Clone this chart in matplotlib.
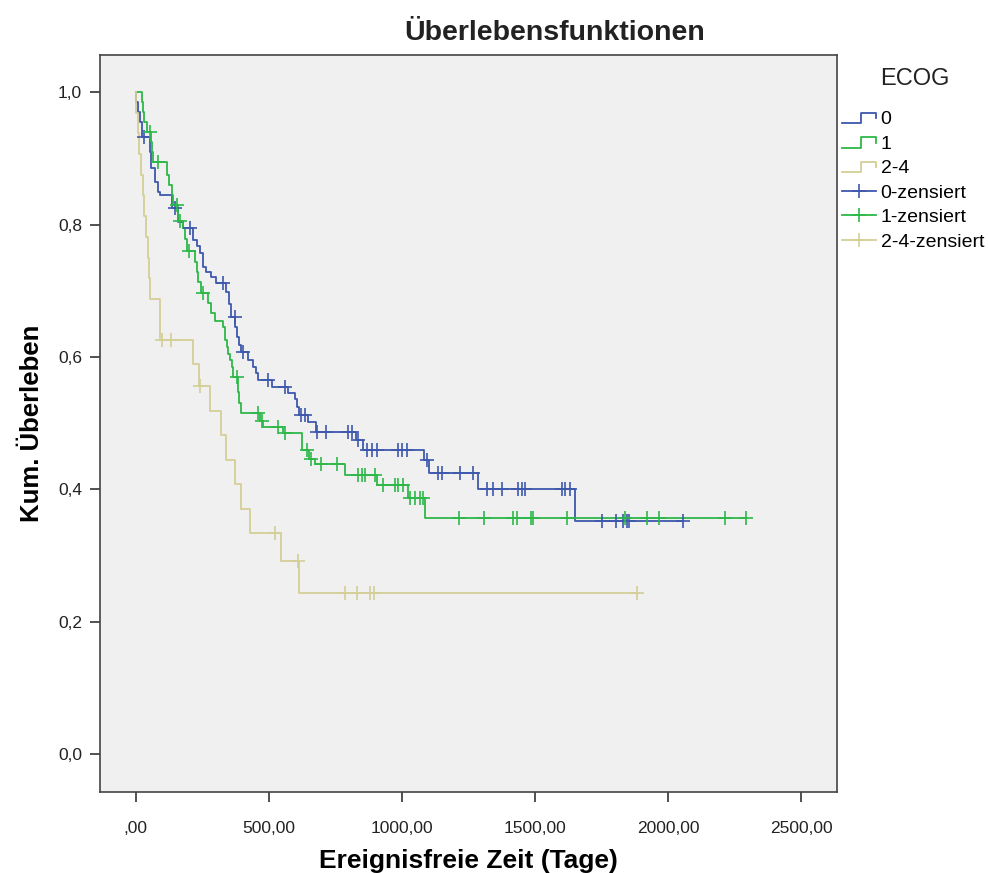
import matplotlib

matplotlib.use("Agg")
import matplotlib.pyplot as plt
import numpy as np
from matplotlib.legend_handler import HandlerBase
from matplotlib.lines import Line2D
from matplotlib.ticker import FuncFormatter

plt.rcParams["font.family"] = ["Liberation Sans", "DejaVu Sans"]

# ─── Kaplan-Meier steps per ECOG group (days, cumulative survival) ────
GROUPS = ["0", "1", "2-4"]
COLORS = ["#3E58AC", "#2EB848", "#D4CE97"]

ecog0_times = [3, 9, 15, 22, 53, 59, 72, 84, 92, 137, 159, 178, 216, 231,
               242, 253, 266, 283, 302, 340, 351, 360, 375, 379, 388, 396,
               422, 441, 454, 460, 511, 574, 599, 606, 614, 648, 676, 826,
               854, 1082, 1104, 1288, 1651]
ecog0_surv = [0.985, 0.970, 0.955, 0.932, 0.909, 0.885, 0.864, 0.849, 0.844,
              0.825, 0.804, 0.795, 0.776, 0.768, 0.757, 0.736, 0.728, 0.721,
              0.712, 0.698, 0.680, 0.660, 0.645, 0.630, 0.618, 0.607, 0.595,
              0.585, 0.575, 0.565, 0.554, 0.545, 0.537, 0.525, 0.512, 0.502,
              0.487, 0.474, 0.459, 0.444, 0.424, 0.401, 0.352]
ecog0_cens = [32, 147, 204, 328, 372, 403, 497, 561, 623, 636, 683, 717, 799,
              811, 834, 869, 887, 906, 987, 1000, 1019, 1095, 1137, 1150,
              1219, 1269, 1319, 1344, 1375, 1438, 1451, 1463, 1601, 1613,
              1632, 1751, 1805, 1832, 1845, 1854, 2058]

ecog1_times = [22, 26, 32, 43, 58, 62, 66, 118, 125, 137, 142, 159, 178, 187,
               192, 223, 230, 236, 246, 272, 283, 298, 329, 336, 342, 348,
               355, 361, 367, 386, 390, 394, 467, 479, 554, 625, 651, 674,
               786, 906, 1025, 1087]
ecog1_surv = [0.985, 0.970, 0.955, 0.940, 0.925, 0.910, 0.895, 0.875, 0.860,
              0.845, 0.830, 0.806, 0.795, 0.778, 0.760, 0.743, 0.728, 0.713,
              0.697, 0.682, 0.667, 0.655, 0.645, 0.625, 0.615, 0.605, 0.595,
              0.585, 0.570, 0.547, 0.530, 0.515, 0.503, 0.494, 0.485, 0.459,
              0.446, 0.438, 0.422, 0.406, 0.387, 0.357]
ecog1_cens = [54, 85, 154, 167, 199, 254, 379, 461, 473, 535, 561, 644, 657,
              698, 755, 837, 849, 862, 899, 931, 975, 987, 1006, 1031, 1050,
              1068, 1081, 1216, 1309, 1417, 1432, 1485, 1494, 1622, 1840,
              1920, 1968, 2215, 2292]

ecog24_times = [3, 7, 13, 19, 27, 33, 39, 45, 50, 53, 92, 216, 237, 280, 321,
                340, 373, 396, 430, 546, 614]
ecog24_surv = [0.969, 0.938, 0.906, 0.875, 0.844, 0.813, 0.781, 0.750, 0.719,
               0.688, 0.625, 0.590, 0.556, 0.519, 0.482, 0.445, 0.408, 0.371,
               0.334, 0.292, 0.243]
ecog24_cens = [99, 133, 240, 523, 610, 787, 832, 881, 896, 1883]

CURVES = [
    (ecog0_times, ecog0_surv, ecog0_cens),
    (ecog1_times, ecog1_surv, ecog1_cens),
    (ecog24_times, ecog24_surv, ecog24_cens),
]


class StepHandler(HandlerBase):
    """Legend glyph shaped like a small survival step."""

    def create_artists(self, legend, orig_handle, xdescent, ydescent,
                       width, height, fontsize, trans):
        x0, x1 = -xdescent, -xdescent + width
        xm = x0 + 0.58 * width
        lo, hi = -ydescent + 0.1 * height, -ydescent + 0.85 * height
        line = Line2D([x0, xm, xm, x1, x1], [lo, lo, hi, hi, 0.55 * hi],
                      color=orig_handle.get_color(), lw=1.3)
        line.set_transform(trans)
        return [line]


def surv_at(times, surv, t):
    idx = np.searchsorted(times, t, side="right")
    return np.concatenate([[1.0], surv])[idx]


fig = plt.figure(figsize=(9.89, 8.73), dpi=100)
ax = fig.add_axes([0.1011, 0.0928, 0.7452, 0.8442])
ax.set_facecolor("#F0F0F0")

step_handles, cens_handles = [], []
for (times, surv, cens), color in zip(CURVES, COLORS):
    times = np.asarray(times, float)
    surv = np.asarray(surv, float)
    cens = np.asarray(cens, float)
    end = max(times.max(), cens.max())
    xs = np.concatenate([[0.0], times, [end]])
    ys = np.concatenate([[1.0], surv, [surv[-1]]])
    h, = ax.step(xs, ys, where="post", color=color, lw=1.3, zorder=3)
    ax.plot(cens, surv_at(times, surv, cens), ls="none", marker="+",
            ms=9.5, mew=1.2, color=color, zorder=4)
    step_handles.append(h)
    cens_handles.append(Line2D([], [], color=color, lw=1.3, marker="+",
                               ms=9.5, mew=1.2))

ax.set_xlim(-134, 2635)
ax.set_ylim(-0.057, 1.056)
ax.set_xticks([0, 500, 1000, 1500, 2000, 2500])
ax.set_yticks([0.0, 0.2, 0.4, 0.6, 0.8, 1.0])
ax.xaxis.set_major_formatter(FuncFormatter(
    lambda v, _: ",00" if v == 0 else f"{v:.2f}".replace(".", ",")))
ax.yaxis.set_major_formatter(FuncFormatter(
    lambda v, _: f"{v:.1f}".replace(".", ",")))
ax.tick_params(direction="out", length=7, width=1.2, color="#333333",
               labelsize=12.5, labelcolor="#222222")
ax.tick_params(axis="x", pad=14)
ax.tick_params(axis="y", pad=6)
for sp in ax.spines.values():
    sp.set_color("#444444")
    sp.set_linewidth(1.2)

ax.set_xlabel("Ereignisfreie Zeit (Tage)", fontsize=19, fontweight="bold",
              labelpad=9)
ax.set_ylabel("Kum. Überleben", fontsize=18.5, fontweight="bold", labelpad=10)
fig.text(0.561, 0.962, "Überlebensfunktionen", ha="center", va="center",
         fontsize=20.5, fontweight="bold", color="#222222")

fig.text(0.8898, 0.909, "ECOG", ha="left", va="center", fontsize=17,
         color="#222222")
labels = GROUPS + [f"{g}-zensiert" for g in GROUPS]
fig.legend(step_handles + cens_handles, labels,
           loc="upper left", bbox_to_anchor=(0.851, 0.873),
           frameon=False, fontsize=14, borderpad=0, borderaxespad=0,
           handlelength=1.75, handletextpad=0.25, labelspacing=0.35,
           handler_map={h: StepHandler() for h in step_handles})

fig.savefig("out.png", dpi=100, facecolor="white")
